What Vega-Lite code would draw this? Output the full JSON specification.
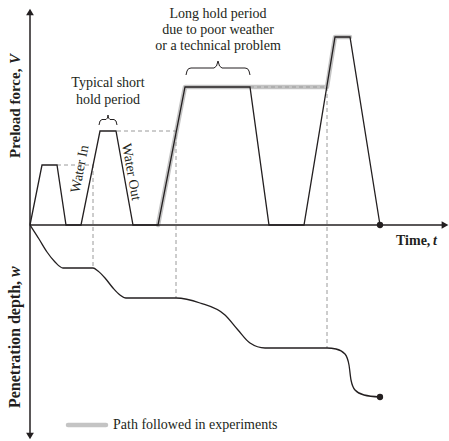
{
  "$schema": "https://vega.github.io/schema/vega-lite/v6.json",
  "width": 449,
  "height": 441,
  "padding": 0,
  "autosize": "none",
  "background": "white",
  "config": {"view": {"stroke": null}},
  "datasets": {
    "lines": [
      {"s": "gray", "i": 1, "t": 128, "v": 0},
      {"s": "gray", "i": 2, "t": 155, "v": 138},
      {"s": "gray", "i": 3, "t": 297, "v": 138},
      {"s": "gray", "i": 4, "t": 305, "v": 188},
      {"s": "gray", "i": 5, "t": 320, "v": 188},
      {"s": "legend", "i": 1, "t": 38, "v": -200},
      {"s": "legend", "i": 2, "t": 76, "v": -200},
      {"s": "d1", "i": 1, "t": 27, "v": 60},
      {"s": "d1", "i": 2, "t": 63, "v": 60},
      {"s": "d1", "i": 3, "t": 63, "v": -43},
      {"s": "d2", "i": 1, "t": 87, "v": 94},
      {"s": "d2", "i": 2, "t": 146, "v": 94},
      {"s": "d2", "i": 3, "t": 146, "v": -73},
      {"s": "d3", "i": 1, "t": 220, "v": 138},
      {"s": "d3", "i": 2, "t": 297, "v": 138},
      {"s": "d3", "i": 3, "t": 297, "v": -123},
      {"s": "axY", "i": 1, "t": 0, "v": 211},
      {"s": "axY", "i": 2, "t": 0, "v": -209},
      {"s": "axX", "i": 1, "t": 0, "v": 0},
      {"s": "axX", "i": 2, "t": 413, "v": 0},
      {"s": "force", "i": 1, "t": 0, "v": 0},
      {"s": "force", "i": 2, "t": 12, "v": 60},
      {"s": "force", "i": 3, "t": 27, "v": 60},
      {"s": "force", "i": 4, "t": 36, "v": 0},
      {"s": "force", "i": 5, "t": 51, "v": 0},
      {"s": "force", "i": 6, "t": 70, "v": 94},
      {"s": "force", "i": 7, "t": 86, "v": 94},
      {"s": "force", "i": 8, "t": 103, "v": 0},
      {"s": "force", "i": 9, "t": 128, "v": 0},
      {"s": "force", "i": 10, "t": 155, "v": 138},
      {"s": "force", "i": 11, "t": 220, "v": 138},
      {"s": "force", "i": 12, "t": 239, "v": 0},
      {"s": "force", "i": 13, "t": 274, "v": 0},
      {"s": "force", "i": 14, "t": 305, "v": 188},
      {"s": "force", "i": 15, "t": 320, "v": 188},
      {"s": "force", "i": 16, "t": 350, "v": 0},
      {"s": "b1", "i": 1, "t": 69, "v": 100},
      {"s": "b1", "i": 2, "t": 70, "v": 104},
      {"s": "b1", "i": 3, "t": 72, "v": 105.5},
      {"s": "b1", "i": 4, "t": 76, "v": 105.5},
      {"s": "b1", "i": 5, "t": 77.5, "v": 107},
      {"s": "b1", "i": 6, "t": 78, "v": 110},
      {"s": "b1", "i": 7, "t": 78.5, "v": 107},
      {"s": "b1", "i": 8, "t": 80, "v": 105.5},
      {"s": "b1", "i": 9, "t": 84, "v": 105.5},
      {"s": "b1", "i": 10, "t": 86, "v": 104},
      {"s": "b1", "i": 11, "t": 87, "v": 100},
      {"s": "b2", "i": 1, "t": 156, "v": 150},
      {"s": "b2", "i": 2, "t": 157, "v": 154},
      {"s": "b2", "i": 3, "t": 158.5, "v": 156.3},
      {"s": "b2", "i": 4, "t": 161, "v": 157},
      {"s": "b2", "i": 5, "t": 184, "v": 157},
      {"s": "b2", "i": 6, "t": 186.5, "v": 159},
      {"s": "b2", "i": 7, "t": 188, "v": 164},
      {"s": "b2", "i": 8, "t": 189.5, "v": 159},
      {"s": "b2", "i": 9, "t": 192, "v": 157},
      {"s": "b2", "i": 10, "t": 215, "v": 157},
      {"s": "b2", "i": 11, "t": 217.5, "v": 156.3},
      {"s": "b2", "i": 12, "t": 219, "v": 154},
      {"s": "b2", "i": 13, "t": 220, "v": 150}
    ],
    "w": [
      {"i": 1, "t": 0, "v": 0},
      {"i": 2, "t": 9, "v": -14},
      {"i": 3, "t": 17, "v": -27},
      {"i": 4, "t": 25, "v": -37},
      {"i": 5, "t": 33, "v": -43},
      {"i": 6, "t": 63, "v": -43},
      {"i": 7, "t": 68, "v": -46},
      {"i": 8, "t": 75, "v": -53},
      {"i": 9, "t": 83, "v": -63},
      {"i": 10, "t": 90, "v": -70},
      {"i": 11, "t": 96, "v": -73},
      {"i": 12, "t": 146, "v": -73},
      {"i": 13, "t": 170, "v": -78},
      {"i": 14, "t": 195, "v": -90},
      {"i": 15, "t": 208, "v": -105},
      {"i": 16, "t": 220, "v": -118},
      {"i": 17, "t": 235, "v": -123},
      {"i": 18, "t": 297, "v": -123},
      {"i": 19, "t": 306, "v": -124},
      {"i": 20, "t": 315, "v": -129},
      {"i": 21, "t": 319, "v": -140},
      {"i": 22, "t": 321, "v": -155},
      {"i": 23, "t": 325, "v": -165},
      {"i": 24, "t": 334, "v": -170},
      {"i": 25, "t": 350, "v": -172}
    ],
    "arrows": [
      {"dir": "up", "t": 0, "v": 213},
      {"dir": "down", "t": 0, "v": -211},
      {"dir": "right", "t": 415, "v": 0}
    ],
    "dots": [
      {"t": 350, "v": 0},
      {"t": 350, "v": -172}
    ],
    "notes": [
      {"label": "Typical short", "t": 78, "v": 142},
      {"label": "hold period", "t": 78, "v": 125},
      {"label": "Long hold period", "t": 188, "v": 211},
      {"label": "due to poor weather", "t": 188, "v": 195},
      {"label": "or a technical problem", "t": 188, "v": 179}
    ]
  },
  "encoding": {
    "x": {"field": "t", "type": "quantitative", "scale": {"domain": [-30, 419], "nice": false, "zero": false}, "axis": null},
    "y": {"field": "v", "type": "quantitative", "scale": {"domain": [-216, 225], "nice": false, "zero": false}, "axis": null}
  },
  "layer": [
    {
      "data": {"name": "lines"},
      "transform": [{"filter": "datum.s == 'gray' || datum.s == 'legend'"}],
      "mark": {"type": "line", "color": "#c4c4c4", "strokeWidth": 4.5, "strokeCap": "round", "strokeJoin": "round"},
      "encoding": {"detail": {"field": "s"}, "order": {"field": "i"}}
    },
    {
      "data": {"name": "lines"},
      "transform": [{"filter": "datum.s == 'd1' || datum.s == 'd2' || datum.s == 'd3'"}],
      "mark": {"type": "line", "color": "#9a9a9a", "strokeWidth": 1, "strokeDash": [4, 3]},
      "encoding": {"detail": {"field": "s"}, "order": {"field": "i"}}
    },
    {
      "data": {"name": "lines"},
      "transform": [{"filter": "datum.s == 'axX' || datum.s == 'axY'"}],
      "mark": {"type": "line", "color": "#231f20", "strokeWidth": 1.5},
      "encoding": {"detail": {"field": "s"}, "order": {"field": "i"}}
    },
    {
      "data": {"name": "lines"},
      "transform": [{"filter": "datum.s == 'force'"}],
      "mark": {"type": "line", "color": "#231f20", "strokeWidth": 1.3},
      "encoding": {"order": {"field": "i"}}
    },
    {
      "data": {"name": "lines"},
      "transform": [{"filter": "datum.s == 'b1' || datum.s == 'b2'"}],
      "mark": {"type": "line", "color": "#231f20", "strokeWidth": 1},
      "encoding": {"detail": {"field": "s"}, "order": {"field": "i"}}
    },
    {
      "data": {"name": "w"},
      "mark": {"type": "line", "color": "#231f20", "strokeWidth": 1.3, "interpolate": "monotone"},
      "encoding": {"order": {"field": "i"}}
    },
    {
      "data": {"name": "arrows"},
      "mark": {"type": "point", "filled": true, "color": "#231f20", "size": 60, "opacity": 1},
      "encoding": {
        "shape": {"field": "dir", "type": "nominal", "scale": {"domain": ["up", "down", "right"], "range": ["triangle-up", "triangle-down", "triangle-right"]}, "legend": null}
      }
    },
    {
      "data": {"name": "dots"},
      "mark": {"type": "circle", "color": "#231f20", "size": 40, "opacity": 1}
    },
    {
      "data": {"name": "notes"},
      "mark": {"type": "text", "font": "Liberation Serif", "fontSize": 14, "color": "#231f20", "align": "center", "baseline": "middle"},
      "encoding": {"text": {"field": "label"}}
    },
    {
      "data": {"values": [{"label": "Path followed in experiments", "t": 83, "v": -200}]},
      "mark": {"type": "text", "font": "Liberation Serif", "fontSize": 14, "color": "#231f20", "align": "left", "baseline": "middle"},
      "encoding": {"text": {"field": "label"}}
    },
    {
      "data": {"values": [{"label": "Water In", "t": 50, "v": 56}]},
      "mark": {"type": "text", "font": "Liberation Serif", "fontSize": 14, "color": "#231f20", "align": "center", "baseline": "middle", "angle": 281},
      "encoding": {"text": {"field": "label"}}
    },
    {
      "data": {"values": [{"label": "Water Out", "t": 101, "v": 53}]},
      "mark": {"type": "text", "font": "Liberation Serif", "fontSize": 14, "color": "#231f20", "align": "center", "baseline": "middle", "angle": 80},
      "encoding": {"text": {"field": "label"}}
    },
    {
      "data": {"values": [{"label": "Time,", "t": 366, "v": -16}]},
      "mark": {"type": "text", "font": "Liberation Serif", "fontSize": 14, "fontWeight": "bold", "color": "#231f20", "align": "left", "baseline": "middle"},
      "encoding": {"text": {"field": "label"}}
    },
    {
      "data": {"values": [{"label": "t", "t": 407, "v": -16}]},
      "mark": {"type": "text", "font": "Liberation Serif", "fontSize": 14, "fontWeight": "bold", "fontStyle": "italic", "color": "#231f20", "align": "right", "baseline": "middle"},
      "encoding": {"text": {"field": "label"}}
    },
    {
      "data": {"values": [{"label": "Preload force,", "t": -15, "v": 67}]},
      "mark": {"type": "text", "font": "Liberation Serif", "fontSize": 15, "fontWeight": "bold", "color": "#231f20", "align": "left", "baseline": "middle", "angle": 270},
      "encoding": {"text": {"field": "label"}}
    },
    {
      "data": {"values": [{"label": "V", "t": -15, "v": 161}]},
      "mark": {"type": "text", "font": "Liberation Serif", "fontSize": 15, "fontWeight": "bold", "fontStyle": "italic", "color": "#231f20", "align": "left", "baseline": "middle", "angle": 270},
      "encoding": {"text": {"field": "label"}}
    },
    {
      "data": {"values": [{"label": "Penetration depth,", "t": -15, "v": -183}]},
      "mark": {"type": "text", "font": "Liberation Serif", "fontSize": 16, "fontWeight": "bold", "color": "#231f20", "align": "left", "baseline": "middle", "angle": 270},
      "encoding": {"text": {"field": "label"}}
    },
    {
      "data": {"values": [{"label": "w", "t": -15, "v": -52}]},
      "mark": {"type": "text", "font": "Liberation Serif", "fontSize": 16, "fontWeight": "bold", "fontStyle": "italic", "color": "#231f20", "align": "left", "baseline": "middle", "angle": 270},
      "encoding": {"text": {"field": "label"}}
    }
  ]
}
